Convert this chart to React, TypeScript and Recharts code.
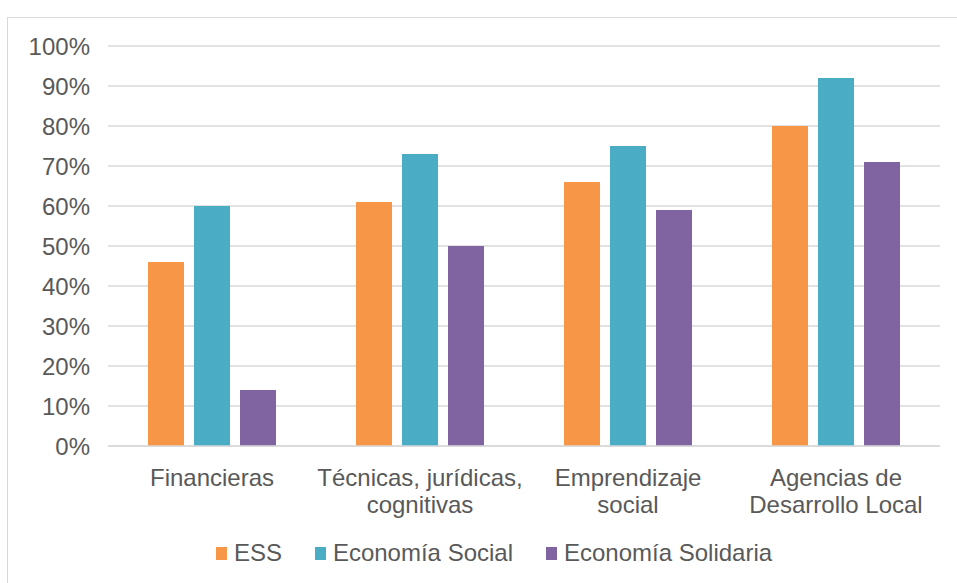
import { Bar, BarChart, CartesianGrid, Legend, XAxis, YAxis } from "recharts";

// categorias y porcentajes
const categories = [
  "Financieras",
  "Técnicas, jurídicas, cognitivas",
  "Emprendizaje social",
  "Agencias de Desarrollo Local",
];
const labelLines = [
  ["Financieras"],
  ["Técnicas, jurídicas,", "cognitivas"],
  ["Emprendizaje", "social"],
  ["Agencias de", "Desarrollo Local"],
];
const ess = [46, 61, 66, 80];
const ecoSocial = [60, 73, 75, 92];
const ecoSolidaria = [14, 50, 59, 71];
const yTicks = [0, 10, 20, 30, 40, 50, 60, 70, 80, 90, 100];

const data = categories.map((name, i) => ({
  name,
  ess: ess[i],
  social: ecoSocial[i],
  solidaria: ecoSolidaria[i],
}));

const FONT = "'Liberation Sans', Arial, sans-serif";
const TEXT = "#595959";
const GRID = "#D9D9D9";
const FS = 24;

const CategoryTick = ({ x, y, payload }: any) => {
  const idx = categories.indexOf(payload.value);
  const lines = idx >= 0 ? labelLines[idx] : [payload.value];
  return (
    <text x={x} y={y} textAnchor="middle" fill={TEXT} fontSize={FS} fontFamily={FONT}>
      {lines.map((l, i) => (
        <tspan key={i} x={x} dy={i === 0 ? 38 : 27}>
          {l}
        </tspan>
      ))}
    </text>
  );
};

const LegendContent = ({ payload }: any) => (
  <div
    style={{
      display: "flex",
      justifyContent: "center",
      alignItems: "center",
      fontFamily: FONT,
      fontSize: FS,
      lineHeight: "24px",
      color: TEXT,
    }}
  >
    {(payload || []).map((p: any, i: number) => (
      <div key={i} style={{ display: "flex", alignItems: "center", marginLeft: i === 0 ? 0 : 33 }}>
        <span style={{ width: 11, height: 13, background: p.color, marginRight: 7, display: "inline-block" }} />
        <span>{p.value}</span>
      </div>
    ))}
  </div>
);

export default function App() {
  return (
    <div style={{ position: "absolute", left: 0, top: 0, width: 957, height: 583, overflow: "hidden", background: "#fff" }}>
      <div
        style={{
          position: "absolute",
          left: 7,
          top: 17,
          width: 980,
          height: 600,
          border: `1px solid ${GRID}`,
          boxSizing: "border-box",
        }}
      />
      <div style={{ position: "absolute", left: 0, top: 0 }}>
        <BarChart
          width={957}
          height={583}
          data={data}
          margin={{ top: 46, right: 17, bottom: 107, left: 0 }}
          barCategoryGap={40}
          barGap={10}
        >
          <CartesianGrid vertical={false} stroke={GRID} strokeWidth={1.3} />
          <XAxis
            dataKey="name"
            height={30}
            tick={<CategoryTick />}
            tickLine={false}
            tickSize={0}
            axisLine={{ stroke: GRID, strokeWidth: 1.3 }}
            interval={0}
          />
          <YAxis
            width={108}
            domain={[0, 100]}
            ticks={yTicks}
            tickFormatter={(v) => `${v}%`}
            tick={{ fill: TEXT, fontSize: FS, fontFamily: FONT }}
            tickLine={false}
            axisLine={false}
            tickSize={0}
            tickMargin={18}
          />
          <Legend
            verticalAlign="middle"
            align="center"
            content={<LegendContent />}
            wrapperStyle={{ top: 541, left: 0, width: 988, height: 24 }}
          />
          <Bar dataKey="ess" name="ESS" fill="#F79646" isAnimationActive={false} />
          <Bar dataKey="social" name="Economía Social" fill="#4BACC6" isAnimationActive={false} />
          <Bar dataKey="solidaria" name="Economía Solidaria" fill="#8064A2" isAnimationActive={false} />
        </BarChart>
      </div>
    </div>
  );
}
